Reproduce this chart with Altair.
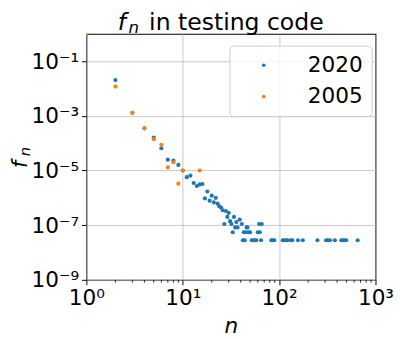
import altair as alt
import pandas as pd

# ---- data ----
n_2020 = [1, 2, 3, 4, 5, 6, 7, 8, 9, 10, 11, 12, 13, 14, 15, 16, 17, 18, 19, 20,
          21, 22, 23, 24, 25, 26, 27, 28, 29, 30, 31, 32, 33, 34, 35, 36, 37, 39,
          41, 42, 43, 44, 45, 46, 47, 48, 50, 52, 54, 56, 58, 60, 62, 63, 65, 66,
          83, 86, 89, 109, 113, 118, 122, 132, 137, 157, 176, 250, 307, 318, 337,
          379, 442, 460, 477, 497, 653]
f_2020 = [1.0, 2.03e-2, 1.3e-3, 3.5e-4, 1.6e-4, 6.5e-5, 2.5e-5, 2.3e-5, 1.6e-5, 1.0e-5,
          5.7e-6, 6.5e-6, 3.5e-6, 2.7e-6, 3.1e-6, 3.2e-6, 9.5e-7, 1.7e-6, 7.9e-7, 1.2e-6,
          6.8e-7, 1.0e-6, 6.1e-7, 4.9e-7, 4.4e-7, 3.5e-7, 1.1e-7, 3.3e-7, 2.0e-7, 2.8e-7,
          1.4e-7, 1.1e-7, 5.5e-8, 2.0e-7, 8.3e-8, 1.3e-7, 8.3e-8, 1.6e-7,
          1.1e-7, 2.8e-8, 5.5e-8, 2.8e-8, 5.5e-8, 8.3e-8, 8.3e-8, 5.5e-8, 5.5e-8, 2.8e-8,
          2.8e-8, 2.8e-8, 2.8e-8, 5.5e-8, 1.1e-7, 5.5e-8, 2.8e-8, 1.1e-7,
          2.8e-8, 2.8e-8, 2.8e-8, 2.8e-8, 2.8e-8, 2.8e-8, 2.8e-8, 2.8e-8, 2.8e-8, 2.8e-8,
          2.8e-8, 2.8e-8, 2.8e-8, 2.8e-8, 2.8e-8, 2.8e-8, 2.8e-8, 2.8e-8, 2.8e-8, 2.8e-8,
          2.8e-8]
n_2005 = [1, 2, 3, 4, 5, 6, 7, 8, 9, 10, 15]
f_2005 = [1.0, 1.18e-2, 1.3e-3, 3.5e-4, 1.4e-4, 8.7e-5, 1.3e-5, 2.0e-5, 3.3e-6, 1.0e-5, 1.0e-5]

series_names = ["2020", "2005"]
series_colors = ["#1f77b4", "#ff7f0e"]

x_ticks = [1, 10, 100, 1000]
y_ticks = [1e-9, 1e-7, 1e-5, 1e-3, 1e-1]
x_minor = [m * 10 ** k for k in range(3) for m in range(2, 10)]

df = pd.DataFrame({
    "n": n_2020 + n_2005,
    "f": f_2020 + f_2005,
    "series": ["2020"] * len(n_2020) + ["2005"] * len(n_2005),
})
minor_df = pd.DataFrame({"m": x_minor})

W, H = 295, 251
FONT = "DejaVu Sans"

xscale = alt.Scale(type="log", domain=[1, 1000], nice=False)
yscale = alt.Scale(type="log", domain=[1e-9, 1], nice=False)

x_label_expr = ("datum.value == 1 ? '10⁰' : datum.value == 10 ? '10¹' : "
                "datum.value == 100 ? '10²' : '10³'")
y_label_expr = ("datum.value < 1e-8 ? '10⁻⁹' : datum.value < 1e-6 ? '10⁻⁷' : "
                "datum.value < 1e-4 ? '10⁻⁵' : datum.value < 1e-2 ? '10⁻³' : '10⁻¹'")

axis_common = dict(grid=True, gridColor="#b0b0b0", gridOpacity=0.7, gridWidth=1,
                   tickSize=5, tickColor="black", tickWidth=1,
                   labelFontSize=22, labelFont=FONT, labelColor="black",
                   labelPadding=3, domain=False, labelFlush=False)

points = alt.Chart(df).mark_circle(size=18, opacity=1, clip=True).encode(
    x=alt.X("n:Q", scale=xscale, title=None,
            axis=alt.Axis(values=x_ticks, labelExpr=x_label_expr, **axis_common)),
    y=alt.Y("f:Q", scale=yscale, title=None,
            axis=alt.Axis(values=y_ticks, labelExpr=y_label_expr, **axis_common)),
    color=alt.Color("series:N",
                    scale=alt.Scale(domain=series_names, range=series_colors),
                    legend=alt.Legend(title=None, orient="none", legendX=146, legendY=12,
                                      labelFontSize=22, labelFont=FONT, labelColor="black",
                                      symbolType="circle", symbolSize=14, symbolStrokeWidth=0,
                                      symbolOffset=15, labelOffset=34, rowPadding=10,
                                      padding=9, strokeColor="#cccccc",
                                      fillColor="rgba(255,255,255,0.8)", cornerRadius=4)),
    order=alt.Order("ord:Q"),
).transform_calculate(ord="datum.series == '2020' ? 0 : 1")

minor = alt.Chart(minor_df).mark_rule(color="black", strokeWidth=0.8, clip=False).encode(
    x=alt.X("m:Q", scale=xscale),
    y=alt.value(H),
    y2=alt.value(H + 3),
)

def txt(text, x, y, size=22, style="normal", angle=0):
    kw = dict(text=text, font=FONT, fontSize=size, fontStyle=style, align="left",
              baseline="alphabetic", color="black", clip=False)
    if angle:
        kw["angle"] = angle
    return alt.Chart(pd.DataFrame({"a": [0]})).mark_text(**kw).encode(
        x=alt.value(x), y=alt.value(y))

labels = [
    # title
    txt("f", 32, -4, size=24, style="italic"),
    txt("n", 43, -0.5, size=17, style="italic"),
    txt("in testing code", 64, -4, size=24),
    # x label
    txt("n", 141, 305, style="italic"),
    # y label
    txt("f", -61, 137, size=21, style="italic", angle=270),
    txt("n", -57.5, 125, size=15, style="italic", angle=270),
]

chart = alt.layer(points, minor, *labels).properties(
    width=W, height=H,
    autosize=alt.AutoSizeParams(type="none"),
    padding={"left": 80, "top": 23, "right": 24, "bottom": 57},
).configure_view(stroke="black", strokeWidth=1.1)

chart.save("out.html", embed_options={"renderer": "svg", "actions": False})
